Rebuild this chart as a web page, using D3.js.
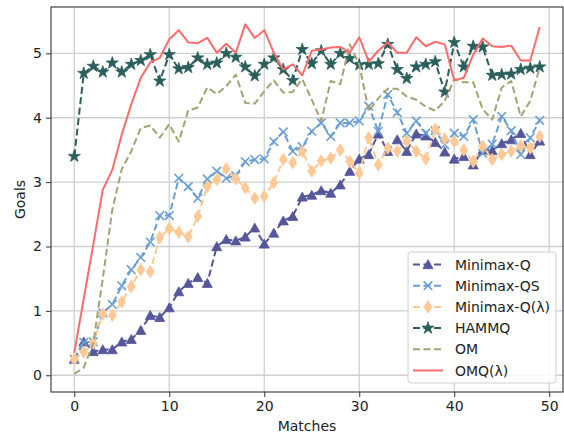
<!DOCTYPE html>
<html><head><meta charset="utf-8">
<script src="https://cdn.jsdelivr.net/npm/d3@7"></script>
<style>html,body{margin:0;padding:0;background:#fff;}svg{display:block;font-family:"DejaVu Sans",sans-serif;}</style>
</head><body><svg id="c" width="564" height="434"></svg>
<script>
const matches = d3.range(50);
const seriesNames = ["Minimax-Q","Minimax-QS","Minimax-Q(λ)","HAMMQ","OM","OMQ(λ)"];
const minimaxQ = [0.25,0.52,0.37,0.40,0.40,0.52,0.56,0.70,0.93,0.90,1.05,1.30,1.43,1.52,1.43,2.00,2.11,2.09,2.15,2.29,2.04,2.21,2.40,2.47,2.77,2.80,2.87,2.83,2.96,3.17,3.36,3.43,3.75,3.48,3.66,3.48,3.75,3.72,3.62,3.47,3.36,3.40,3.27,3.50,3.49,3.60,3.66,3.76,3.43,3.64];
const minimaxQS = [0.25,0.51,0.52,0.97,1.10,1.39,1.64,1.83,2.07,2.48,2.48,3.06,2.93,2.75,3.05,3.17,3.06,3.10,3.32,3.35,3.36,3.63,3.78,3.48,3.55,3.79,3.92,3.71,3.92,3.92,3.95,4.18,3.79,4.36,4.08,3.76,3.95,3.76,3.80,3.58,3.76,3.71,3.97,3.45,3.59,4.02,3.80,3.43,3.69,3.96];
const minimaxQL = [0.25,0.36,0.50,0.95,0.93,1.14,1.38,1.64,1.61,2.14,2.28,2.22,2.15,2.47,2.93,3.04,3.21,3.05,2.91,2.75,2.78,2.99,3.35,3.30,3.48,3.17,3.33,3.37,3.50,3.32,3.14,3.69,3.27,3.53,3.48,3.64,3.48,3.36,3.82,3.67,3.63,3.50,3.32,3.56,3.35,3.43,3.48,3.56,3.53,3.71];
const hammq = [3.40,4.69,4.80,4.71,4.85,4.71,4.83,4.89,4.98,4.57,4.98,4.76,4.78,4.93,4.83,4.85,5.00,4.94,4.79,4.65,4.83,4.93,4.75,4.58,5.06,4.84,5.04,4.83,5.00,4.92,4.82,4.83,4.84,5.14,4.75,4.61,4.79,4.83,4.87,4.40,5.17,4.79,5.11,5.10,4.66,4.67,4.68,4.75,4.77,4.79];
const om = [0.02,0.12,0.50,1.50,2.57,3.20,3.48,3.84,3.88,3.69,3.90,3.63,4.11,4.16,4.47,4.37,4.49,4.67,4.23,4.22,4.41,4.58,4.39,4.40,4.60,4.28,3.95,4.57,4.52,5.14,4.83,4.10,4.30,4.45,4.45,4.33,4.28,4.17,4.11,4.26,4.60,4.55,4.55,4.13,3.97,4.47,4.57,4.02,4.26,4.78];
const omq = [0.35,1.19,2.03,2.88,3.19,3.74,4.21,4.62,4.86,4.93,5.22,5.36,5.17,5.16,5.24,5.01,5.15,5.01,5.45,5.24,5.36,5.01,4.75,4.83,4.66,5.04,5.06,5.09,5.10,5.01,5.25,4.87,5.04,5.17,5.01,5.01,5.25,5.11,5.18,5.14,4.58,4.62,4.98,5.23,5.11,5.10,5.12,4.89,4.89,5.41];
const xTicks = [0,10,20,30,40,50];
const yTicks = [0,1,2,3,4,5];

const series = [
  {name:seriesNames[0], values:minimaxQ, color:"#56579b", dash:"7,3.5", marker:"tri"},
  {name:seriesNames[1], values:minimaxQS, color:"#6a9fd6", dash:"7,3.5", marker:"x"},
  {name:seriesNames[2], values:minimaxQL, color:"#ffc995", dash:"7,3.5", marker:"dia"},
  {name:seriesNames[3], values:hammq, color:"#2b5f5b", dash:"7,3.5", marker:"star"},
  {name:seriesNames[4], values:om, color:"#a3a375", dash:"7,3.5", marker:null},
  {name:seriesNames[5], values:omq, color:"#ff6b6b", dash:null, marker:null}
];

const svg = d3.select("#c");
const L=51, R=563, T=7, B=392;
const x = d3.scaleLinear().domain([-2.45,51.45]).range([L,R]);
const y = d3.scaleLinear().domain([-0.26,5.72]).range([B,T]);

// grid
const g = svg.append("g");
g.selectAll(".gx").data(xTicks).enter().append("line")
  .attr("x1",d=>x(d)).attr("x2",d=>x(d)).attr("y1",T).attr("y2",B)
  .attr("stroke","#d0d0d0").attr("stroke-width",1.3);
g.selectAll(".gy").data(yTicks).enter().append("line")
  .attr("y1",d=>y(d)).attr("y2",d=>y(d)).attr("x1",L).attr("x2",R)
  .attr("stroke","#d0d0d0").attr("stroke-width",1.3);

function markerPath(type){
  if(type==="tri") return "M0,-4.8L5,4.2L-5,4.2Z";
  if(type==="dia") return "M0,-6.2L4,0L0,6.2L-4,0Z";
  if(type==="x") return "M-4.3,-4.3L4.3,4.3M-4.3,4.3L4.3,-4.3";
  if(type==="star") return d3.symbol().type(d3.symbolStar).size(46)();
  return null;
}

const line = d3.line().x((d,i)=>x(matches[i])).y(d=>y(d));
const plot = svg.append("g");
series.forEach(s=>{
  plot.append("path").attr("d",line(s.values)).attr("fill","none")
    .attr("stroke",s.color).attr("stroke-width",2)
    .attr("stroke-dasharray",s.dash).attr("stroke-linejoin","round");
  if(s.marker){
    const p = markerPath(s.marker);
    plot.selectAll(null).data(s.values).enter().append("path")
      .attr("d",p)
      .attr("transform",(d,i)=>`translate(${x(matches[i])},${y(d)})`)
      .attr("fill",s.marker==="x"?"none":s.color)
      .attr("stroke",s.color).attr("stroke-width",s.marker==="x"?1.6:0.8);
  }
});

// axes
const xAxis = svg.append("g").attr("transform",`translate(0,${B})`)
  .call(d3.axisBottom(x).tickValues(xTicks).tickFormat(d3.format("d")).tickSize(5).tickPadding(4));
const yAxis = svg.append("g").attr("transform",`translate(${L},0)`)
  .call(d3.axisLeft(y).tickValues(yTicks).tickFormat(d3.format("d")).tickSize(5).tickPadding(4));
[xAxis,yAxis].forEach(a=>{
  a.select(".domain").remove();
  a.selectAll("line").attr("stroke","#333").attr("stroke-width",1);
  a.selectAll("text").attr("font-size",14).attr("fill","#222").attr("font-family","DejaVu Sans");
});
svg.append("rect").attr("x",L).attr("y",T).attr("width",R-L).attr("height",B-T)
  .attr("fill","none").attr("stroke","#333").attr("stroke-width",1.1);

svg.append("text").attr("x",(L+R)/2).attr("y",431).attr("text-anchor","middle")
  .attr("font-size",14).attr("fill","#222").text("Matches");
svg.append("text").attr("transform",`translate(25,${(T+B)/2}) rotate(-90)`)
  .attr("text-anchor","middle").attr("font-size",14).attr("fill","#222").text("Goals");

// legend
const lg = svg.append("g");
lg.append("rect").attr("x",408).attr("y",252).attr("width",148).attr("height",131)
  .attr("rx",3).attr("fill","rgba(255,255,255,0.85)").attr("stroke","#d0d0d0").attr("stroke-width",1);
series.forEach((s,i)=>{
  const yy = 264.5 + i*21.2;
  lg.append("line").attr("x1",413).attr("x2",443).attr("y1",yy).attr("y2",yy)
    .attr("stroke",s.color).attr("stroke-width",2).attr("stroke-dasharray",s.dash);
  if(s.marker){
    lg.append("path").attr("d",markerPath(s.marker)).attr("transform",`translate(428,${yy})`)
      .attr("fill",s.marker==="x"?"none":s.color).attr("stroke",s.color)
      .attr("stroke-width",s.marker==="x"?1.6:0.8);
  }
  lg.append("text").attr("x",455).attr("y",yy+5).attr("font-size",14).attr("fill","#222").text(s.name);
});
</script></body></html>
